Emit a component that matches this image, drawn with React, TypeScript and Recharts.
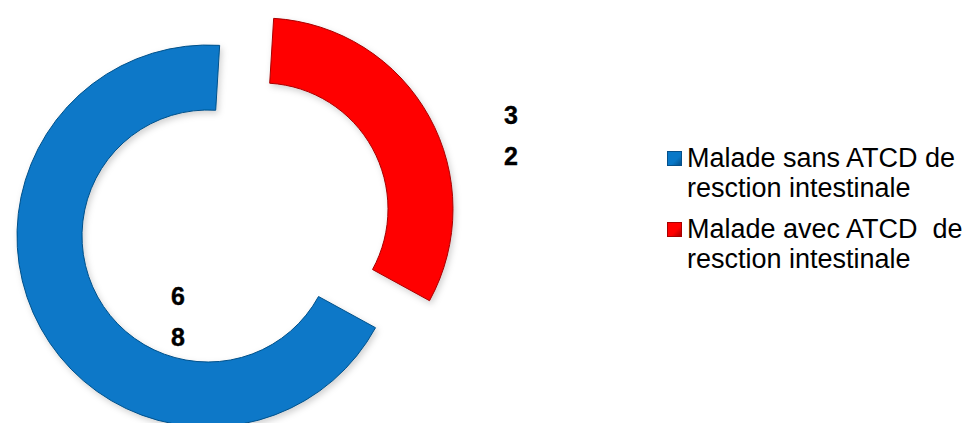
import React from 'react';
import { PieChart, Pie, Cell, Legend } from 'recharts';

const categories = ['Malade sans ATCD de\nresction intestinale', 'Malade avec ATCD  de\nresction intestinale'];
const values = [68, 32];
const colors = ['#0878C8', '#FF0000'];
const edgeColors = ['#05508A', '#A80000'];

const data = categories.map((name, i) => ({ name, value: values[i] }));

// label placement relative to each pie's centre (as in the original layout)
const labelOffsets = [
  { dx: -30, dy: 80 },
  { dx: 249, dy: -74 },
];

const makeLabel = (only: number) => (props: any) => {
  const { cx, cy, index, value } = props;
  if (index !== only) return null;
  const off = labelOffsets[index];
  const chars = String(value).split('');
  const lh = 41;
  const startY = cy + off.dy - ((chars.length - 1) * lh) / 2;
  return (
    <text
      x={cx + off.dx}
      y={startY}
      textAnchor="middle"
      dominantBaseline="central"
      style={{ fontFamily: "'Liberation Sans', Arial, sans-serif", fontWeight: 'bold', fontSize: '25px', fill: '#000', stroke: '#000', strokeWidth: 0.4 }}
    >
      {chars.map((c, k) => (
        <tspan key={k} x={cx + off.dx} dy={k === 0 ? 0 : lh}>
          {c}
        </tspan>
      ))}
    </text>
  );
};

const LegendContent = () => (
  <div style={{ fontFamily: "'Liberation Sans', Arial, sans-serif", fontSize: 27, lineHeight: '30px', color: '#000' }}>
    {categories.map((name, i) => (
      <div key={i} style={{ display: 'flex', alignItems: 'flex-start', marginBottom: i === 0 ? 11 : 0 }}>
        <div
          style={{
            width: 15,
            height: 15,
            marginTop: 8,
            marginRight: 5,
            flex: '0 0 auto',
            background: `linear-gradient(135deg, ${colors[i]} 0%, ${colors[i]} 60%, ${edgeColors[i]} 100%)`,
            border: `1px solid ${edgeColors[i]}`,
            boxSizing: 'border-box',
          }}
        />
        <div style={{ whiteSpace: 'pre' }}>{name}</div>
      </div>
    ))}
  </div>
);

export default function App() {
  return (
    <div style={{ position: 'absolute', left: 0, top: 0, width: 971, height: 423, background: '#fff' }}>
      <PieChart width={971} height={423}>
        <defs>
          <filter id="shadow" x="-20%" y="-20%" width="140%" height="140%">
            <feDropShadow dx="2" dy="3" stdDeviation="3" floodColor="#000" floodOpacity="0.18" />
          </filter>
        </defs>
        <Pie
          data={data}
          dataKey="value"
          nameKey="name"
          cx={203}
          cy={231}
          innerRadius={126}
          outerRadius={191}
          startAngle={86.5}
          endAngle={446.5}
          isAnimationActive={false}
          labelLine={false}
          label={makeLabel(0)}
          stroke="none"
        >
          {data.map((d, i) => (
            <Cell
              key={i}
              fill={i === 0 ? colors[0] : 'none'}
              stroke={i === 0 ? edgeColors[0] : 'none'}
              strokeWidth={1}
              filter={i === 0 ? 'url(#shadow)' : undefined}
            />
          ))}
        </Pie>
        <Pie
          data={data}
          dataKey="value"
          nameKey="name"
          cx={257}
          cy={204}
          innerRadius={126}
          outerRadius={191}
          startAngle={86.5}
          endAngle={446.5}
          isAnimationActive={false}
          labelLine={false}
          label={makeLabel(1)}
          stroke="none"
        >
          {data.map((d, i) => (
            <Cell
              key={i}
              fill={i === 1 ? colors[1] : 'none'}
              stroke={i === 1 ? edgeColors[1] : 'none'}
              strokeWidth={1}
              filter={i === 1 ? 'url(#shadow)' : undefined}
            />
          ))}
        </Pie>
        <Legend
          content={<LegendContent />}
          wrapperStyle={{ position: 'absolute', left: 667, top: 143, width: 304, bottom: 'auto', right: 'auto' }}
        />
      </PieChart>
    </div>
  );
}
